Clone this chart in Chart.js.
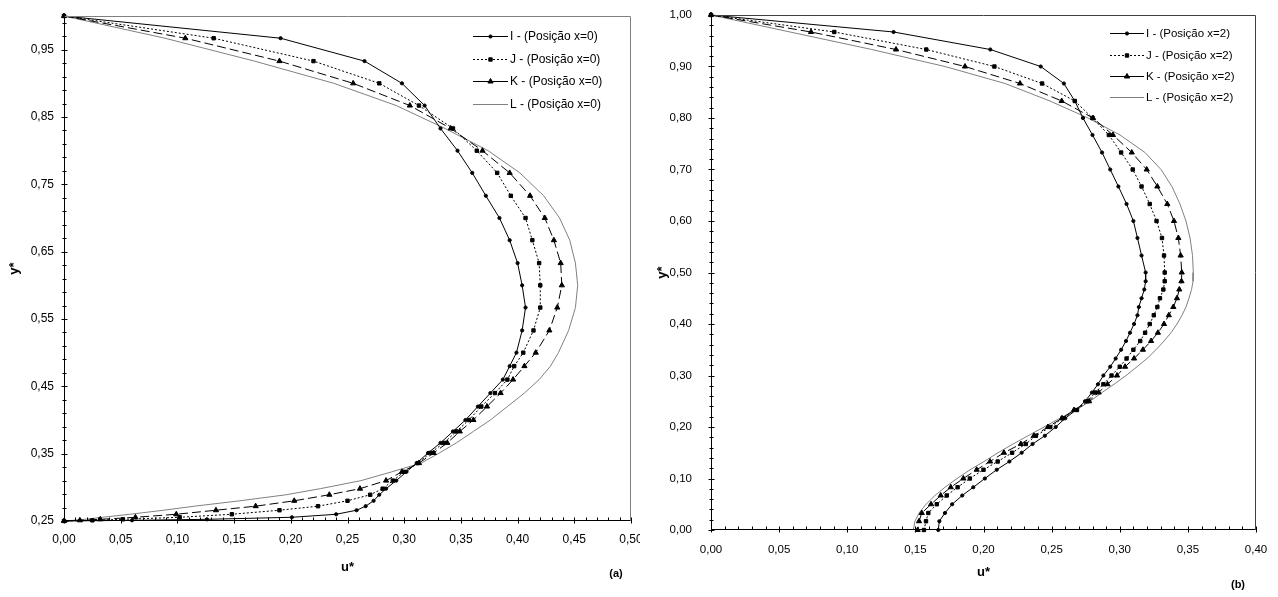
<!DOCTYPE html>
<html>
<head>
<meta charset="utf-8">
<script src="https://cdn.jsdelivr.net/npm/chart.js@4.4.1/dist/chart.umd.min.js"></script>
<style>
  body { margin: 0; background: #fff; width: 1278px; height: 597px; overflow: hidden; position: relative; }
  #wrap_a { position: absolute; left: 0; top: 0; }
  #wrap_b { position: absolute; left: 640px; top: 0; }
</style>
</head>
<body>
<div id="wrap_a"><canvas id="chart_a" width="640" height="597"></canvas></div>
<div id="wrap_b"><canvas id="chart_b" width="638" height="597"></canvas></div>
<script>

///////////   DATA (a) - Posição x=0  /////////////////

const y_a = [1.000, 0.967, 0.933, 0.900, 0.867, 0.833, 0.800, 0.767, 0.733, 0.700,
             0.667, 0.633, 0.600, 0.567, 0.533, 0.500, 0.480, 0.460, 0.440, 0.420,
             0.400, 0.383, 0.366, 0.351, 0.336, 0.323, 0.310, 0.298, 0.289, 0.280,
             0.272, 0.266, 0.260, 0.2555, 0.2525, 0.251, 0.250];

const u_a_I = [0, 0.191, 0.265, 0.298, 0.318, 0.332, 0.347, 0.360, 0.372, 0.384,
               0.393, 0.400, 0.404, 0.407, 0.404, 0.399, 0.393, 0.387, 0.376, 0.365,
               0.354, 0.343, 0.332, 0.321, 0.311, 0.302, 0.293, 0.284, 0.278, 0.273,
               0.266, 0.258, 0.240, 0.201, 0.126, 0.060, 0];
const u_a_J = [0, 0.132, 0.220, 0.278, 0.313, 0.343, 0.364, 0.382, 0.394, 0.407,
               0.413, 0.419, 0.420, 0.420, 0.414, 0.405, 0.397, 0.391, 0.380, 0.368,
               0.357, 0.346, 0.335, 0.323, 0.312, 0.300, 0.290, 0.281, 0.270, 0.250,
               0.224, 0.190, 0.148, 0.102, 0.052, 0.025, 0];
const u_a_K = [0, 0.107, 0.190, 0.255, 0.305, 0.341, 0.369, 0.393, 0.411, 0.424,
               0.432, 0.438, 0.439, 0.435, 0.428, 0.416, 0.406, 0.396, 0.385, 0.373,
               0.361, 0.349, 0.338, 0.326, 0.313, 0.298, 0.284, 0.261, 0.234, 0.203,
               0.169, 0.134, 0.099, 0.063, 0.032, 0.014, 0];
const u_a_L = [0, 0.089, 0.168, 0.238, 0.293, 0.336, 0.374, 0.402, 0.423, 0.437,
               0.446, 0.451, 0.453, 0.451, 0.445, 0.436, 0.429, 0.419, 0.406, 0.391,
               0.376, 0.361, 0.346, 0.331, 0.315, 0.289, 0.262, 0.226, 0.196, 0.155,
               0.115, 0.088, 0.058, 0.034, 0.018, 0.008, 0];

const names_a = ["I - (Posição x=0)", "J - (Posição x=0)", "K - (Posição x=0)", "L - (Posição x=0)"];
const xTicks_a = [0, 0.05, 0.10, 0.15, 0.20, 0.25, 0.30, 0.35, 0.40, 0.45, 0.50];
const yTicks_a = [0.25, 0.35, 0.45, 0.55, 0.65, 0.75, 0.85, 0.95];


///////////   DATA (b) - Posição x=2  /////////////////

const y_b = [1.000, 0.967, 0.933, 0.900, 0.867, 0.833, 0.800, 0.767, 0.733, 0.700,
             0.667, 0.633, 0.600, 0.567, 0.533, 0.500, 0.483, 0.467, 0.450, 0.433,
             0.417, 0.400, 0.383, 0.367, 0.350, 0.333, 0.317, 0.300, 0.283, 0.267,
             0.250, 0.233, 0.217, 0.200, 0.183, 0.167, 0.150, 0.133, 0.117, 0.100,
             0.083, 0.067, 0.050, 0.033, 0.017, 0.000];

const u_b_I = [0, 0.134, 0.205, 0.242, 0.259, 0.267, 0.273, 0.280, 0.287, 0.293,
               0.299, 0.305, 0.310, 0.313, 0.316, 0.319, 0.319, 0.318, 0.316, 0.314,
               0.313, 0.3105, 0.3075, 0.3046, 0.301, 0.297, 0.293, 0.288, 0.284, 0.2796,
               0.2745, 0.268, 0.260, 0.253, 0.245, 0.236, 0.228, 0.219, 0.2097, 0.201,
               0.1925, 0.1844, 0.177, 0.1717, 0.1676, 0.1668];
const u_b_J = [0, 0.0905, 0.158, 0.208, 0.243, 0.267, 0.280, 0.292, 0.301, 0.3095,
               0.316, 0.322, 0.327, 0.331, 0.3325, 0.333, 0.333, 0.332, 0.3295, 0.3276,
               0.325, 0.322, 0.3186, 0.315, 0.310, 0.305, 0.300, 0.294, 0.288, 0.282,
               0.2765, 0.2686, 0.258, 0.249, 0.2385, 0.231, 0.221, 0.2104, 0.200, 0.190,
               0.181, 0.173, 0.1657, 0.1595, 0.1578, 0.1563];
const u_b_K = [0, 0.0734, 0.1358, 0.1864, 0.2268, 0.2574, 0.2804, 0.295, 0.3088, 0.3198,
               0.3276, 0.3349, 0.3398, 0.343, 0.3447, 0.3455, 0.3453, 0.3437, 0.342, 0.3393,
               0.336, 0.3325, 0.328, 0.323, 0.317, 0.3105, 0.3039, 0.298, 0.291, 0.2845,
               0.2775, 0.2664, 0.2576, 0.2473, 0.237, 0.2274, 0.215, 0.2048, 0.195, 0.1852,
               0.176, 0.1686, 0.1615, 0.1547, 0.1527, 0.1517];
const u_b_L = [0, 0.058, 0.118, 0.1717, 0.2158, 0.2488, 0.2767, 0.3002, 0.3185, 0.3303,
               0.3383, 0.3442, 0.3486, 0.3516, 0.3534, 0.354, 0.3538, 0.3527, 0.3508, 0.3486,
               0.3457, 0.342, 0.3376, 0.3325, 0.3266, 0.32, 0.3127, 0.3046, 0.2958, 0.287,
               0.2782, 0.2679, 0.2561, 0.2444, 0.2327, 0.2217, 0.2106, 0.2004, 0.1901, 0.1806,
               0.1717, 0.1644, 0.1578, 0.1527, 0.1497, 0.1485];

const names_b = ["I - (Posição x=2)", "J - (Posição x=2)", "K - (Posição x=2)", "L - (Posição x=2)"];
const xTicks_b = [0, 0.05, 0.10, 0.15, 0.20, 0.25, 0.30, 0.35, 0.40];
const yTicks_b = [0, 0.10, 0.20, 0.30, 0.40, 0.50, 0.60, 0.70, 0.80, 0.90, 1.00];


///////////   STYLES  /////////////////

Chart.defaults.font.family = "'Liberation Sans', Arial, sans-serif";
Chart.defaults.color = "#000";

const seriesStyle = [
  { borderColor: "#000", borderDash: [], pointStyle: "circle", pointRadius: 1.6 },
  { borderColor: "#000", borderDash: [2, 2], pointStyle: "rect", pointRadius: 2.4 },
  { borderColor: "#000", borderDash: [9, 4], legendDash: [], pointStyle: "triangle", pointRadius: 3 },
  { borderColor: "#808080", borderDash: [], pointStyle: "circle", pointRadius: 0 }
];

const fmt = v => v.toFixed(2).replace(".", ",");

function makeDatasets(yMesh, series, names) {
  return series.map((u, i) => Object.assign({
    label: names[i],
    data: u.map((v, k) => ({ x: v, y: yMesh[k] })),
    showLine: true,
    borderWidth: 1,
    tension: 0,
    fill: false,
    clip: false,
    pointBackgroundColor: "#000",
    pointBorderColor: "#000",
    pointBorderWidth: 1,
    pointHoverRadius: 0
  }, seriesStyle[i]));
}


////////////// PLUGINS: frame, tick marks, legend /////////////

const frameLines = {
  id: "frameLines",
  afterDraw(chart, args, o) {
    const { ctx, chartArea: a, scales: { x, y } } = chart;
    const L = Math.round(a.left) + 0.5, R = Math.round(a.right) - 0.5;
    const T = Math.round(a.top) + 0.5, B = Math.round(a.bottom) - 0.5;
    ctx.save();
    ctx.lineWidth = 1;
    ctx.setLineDash([]);
    ctx.strokeStyle = o.boxColor;
    ctx.beginPath(); ctx.moveTo(L, T); ctx.lineTo(R, T); ctx.lineTo(R, B); ctx.stroke();
    ctx.strokeStyle = o.axisColor;
    ctx.beginPath(); ctx.moveTo(L, T); ctx.lineTo(L, B); ctx.lineTo(R, B); ctx.stroke();

    const nx = Math.round((x.max - x.min) / o.minorX);
    for (let i = 0; i <= nx; i++) {
      const px = Math.round(x.getPixelForValue(x.min + i * o.minorX)) + 0.5;
      const major = i % o.perMajorX === 0;
      ctx.beginPath(); ctx.moveTo(px, B + (major ? 3 : 0)); ctx.lineTo(px, B - 3); ctx.stroke();
    }
    const ny = Math.floor((y.max - y.min) / o.minorY + 1e-6);
    for (let i = 0; i <= ny; i++) {
      const py = Math.round(y.getPixelForValue(y.min + i * o.minorY)) + 0.5;
      const major = i % o.perMajorY === 0;
      ctx.beginPath(); ctx.moveTo(L - (major ? 3 : 2), py); ctx.lineTo(L + (major ? 3 : 2), py); ctx.stroke();
    }

    ctx.fillStyle = "#000";
    ctx.font = "bold 11px 'Liberation Sans', Arial, sans-serif";
    ctx.textAlign = "center";
    ctx.textBaseline = "middle";
    ctx.fillText(o.tag, o.tagX, o.tagY);
    ctx.restore();
  }
};

const boxLegend = {
  id: "boxLegend",
  afterDraw(chart, args, o) {
    const ctx = chart.ctx;
    chart.data.datasets.forEach((ds, i) => {
      const y = Math.round(o.y0 + i * o.dy) + 0.5;
      ctx.save();
      ctx.strokeStyle = ds.borderColor;
      ctx.lineWidth = 1;
      ctx.setLineDash(ds.legendDash || ds.borderDash || []);
      ctx.beginPath(); ctx.moveTo(o.x0, y); ctx.lineTo(o.x0 + o.len, y); ctx.stroke();
      ctx.setLineDash([]);
      if (ds.pointRadius > 0) {
        ctx.fillStyle = "#000";
        ctx.strokeStyle = "#000";
        Chart.helpers.drawPoint(ctx, { pointStyle: ds.pointStyle, radius: ds.pointRadius, borderWidth: 1, rotation: 0 },
          o.x0 + o.len / 2, y);
      }
      ctx.fillStyle = "#000";
      ctx.font = o.fontSize + "px 'Liberation Sans', Arial, sans-serif";
      ctx.textAlign = "left";
      ctx.textBaseline = "middle";
      ctx.fillText(ds.label, o.x0 + o.len + 2, y);
      ctx.restore();
    });
  }
};


////////////// CHART (a) /////////////

new Chart(document.querySelector("#chart_a"), {
  type: "scatter",
  data: { datasets: makeDatasets(y_a, [u_a_I, u_a_J, u_a_K, u_a_L], names_a) },
  plugins: [frameLines, boxLegend],
  options: {
    responsive: false,
    animation: false,
    devicePixelRatio: 1,
    layout: { padding: { top: 16, right: 9, left: 0, bottom: 0 } },
    plugins: {
      legend: { display: false },
      tooltip: { enabled: false },
      frameLines: { boxColor: "#808080", axisColor: "#000", minorX: 0.01, perMajorX: 5, minorY: 0.02, perMajorY: 5,
                    tag: "(a)", tagX: 616, tagY: 574 },
      boxLegend: { x0: 473, y0: 36, dy: 22.6, len: 35, fontSize: 12 }
    },
    scales: {
      x: {
        type: "linear", min: 0, max: 0.5,
        grid: { display: false, drawTicks: false },
        border: { display: false },
        afterBuildTicks: s => { s.ticks = xTicks_a.map(v => ({ value: v })); },
        afterFit: s => { s.height = 76; s.paddingLeft = 0; s.paddingRight = 0; },
        ticks: { padding: 11, autoSkip: false, maxRotation: 0, font: { size: 12 }, callback: v => fmt(v) },
        title: { display: true, text: "u*", font: { size: 13, weight: "bold" }, padding: { top: 0, bottom: 22 } }
      },
      y: {
        type: "linear", min: 0.25, max: 1.0,
        grid: { display: false, drawTicks: false },
        border: { display: false },
        afterBuildTicks: s => { s.ticks = yTicks_a.map(v => ({ value: v })); },
        afterFit: s => { s.width = 64; s.paddingTop = 0; s.paddingBottom = 0; },
        ticks: { padding: 10, autoSkip: false, font: { size: 12 }, callback: v => fmt(v) },
        title: { display: true, text: "y*", font: { size: 13, weight: "bold" }, padding: { top: 7, bottom: 0 } }
      }
    }
  }
});


////////////// CHART (b) /////////////

new Chart(document.querySelector("#chart_b"), {
  type: "scatter",
  data: { datasets: makeDatasets(y_b, [u_b_I, u_b_J, u_b_K, u_b_L], names_b) },
  plugins: [frameLines, boxLegend],
  options: {
    responsive: false,
    animation: false,
    devicePixelRatio: 1,
    layout: { padding: { top: 15, right: 22, left: 0, bottom: 0 } },
    plugins: {
      legend: { display: false },
      tooltip: { enabled: false },
      frameLines: { boxColor: "#404040", axisColor: "#000", minorX: 0.01, perMajorX: 5, minorY: 0.02, perMajorY: 5,
                    tag: "(b)", tagX: 598, tagY: 585 },
      boxLegend: { x0: 470, y0: 33.3, dy: 21.3, len: 34, fontSize: 11.5 }
    },
    scales: {
      x: {
        type: "linear", min: 0, max: 0.4,
        grid: { display: false, drawTicks: false },
        border: { display: false },
        afterBuildTicks: s => { s.ticks = xTicks_b.map(v => ({ value: v })); },
        afterFit: s => { s.height = 67; s.paddingLeft = 0; s.paddingRight = 0; },
        ticks: { padding: 13, autoSkip: false, maxRotation: 0, font: { size: 11.5 }, callback: v => fmt(v) },
        title: { display: true, text: "u*", font: { size: 13, weight: "bold" }, padding: { top: 0, bottom: 17 } }
      },
      y: {
        type: "linear", min: 0, max: 1.0,
        grid: { display: false, drawTicks: false },
        border: { display: false },
        afterBuildTicks: s => { s.ticks = yTicks_b.map(v => ({ value: v })); },
        afterFit: s => { s.width = 71; s.paddingTop = 0; s.paddingBottom = 0; },
        ticks: { padding: 19, autoSkip: false, font: { size: 11.5 }, callback: v => fmt(v) },
        title: { display: true, text: "y*", font: { size: 13, weight: "bold" }, padding: { top: 15, bottom: 0 } }
      }
    }
  }
});

</script>
</body>
</html>
